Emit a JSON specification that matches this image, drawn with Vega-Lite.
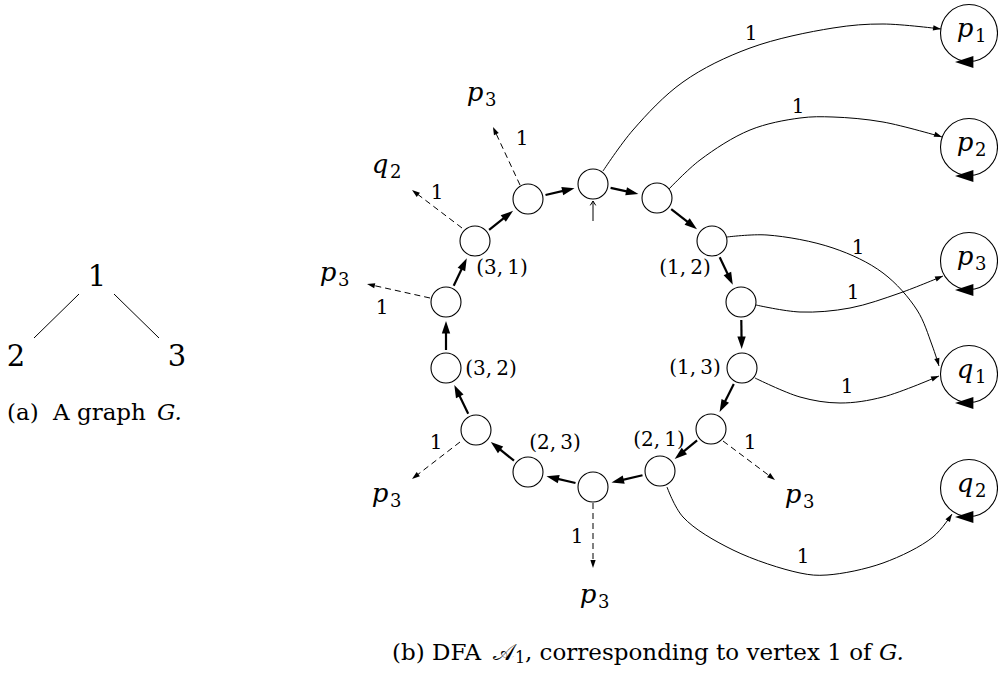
{
"$schema":"https://vega.github.io/schema/vega-lite/v6.json",
"width":998,"height":685,"padding":0,"autosize":{"type":"none"},
"background":"white",
"config":{"view":{"stroke":null},"text":{"font":"DejaVu Serif","color":"black"}},
"encoding":{
 "x":{"field":"x","type":"quantitative","scale":{"domain":[0,998],"nice":false,"zero":false},"axis":null},
 "y":{"field":"y","type":"quantitative","scale":{"domain":[0,685],"nice":false,"zero":false,"reverse":true},"axis":null}
},
"datasets":{
 "graphEdges":[{"x1":79,"y1":294,"x":34,"y":338},{"x1":114,"y1":294,"x":159,"y":338}],
 "graphVertices":[{"x":97,"y":277,"t":"1"},{"x":16,"y":357,"t":"2"},{"x":177,"y":357,"t":"3"}],
 "ringNodes":[{"x":593,"y":184},{"x":657,"y":198},{"x":712,"y":241},{"x":741,"y":302},{"x":742,"y":368},{"x":711,"y":429},{"x":660,"y":471},{"x":593,"y":487},{"x":528,"y":472},{"x":476,"y":430},{"x":446,"y":368},{"x":446,"y":302},{"x":475,"y":241},{"x":528,"y":199}],
 "bigNodes":[{"x":969,"y":33},{"x":969,"y":147},{"x":969,"y":261},{"x":969,"y":374},{"x":969,"y":488}],
 "loopHeads":[{"x":955,"y":62},{"x":955,"y":176},{"x":955,"y":290},{"x":955,"y":403},{"x":955,"y":517}],
 "ringArrows":[
  {"x1":610.6,"y1":187.9,"x":638.4,"y":193.9},
  {"x1":671.2,"y1":209.1,"x":697.0,"y":229.3},
  {"x1":719.7,"y1":257.3,"x":732.8,"y":284.8},
  {"x1":741.3,"y1":320,"x":741.7,"y":349},
  {"x1":733.8,"y1":384.1,"x":719.6,"y":412.1},
  {"x1":697.1,"y1":440.4,"x":674.7,"y":458.9},
  {"x1":642.5,"y1":475.2,"x":611.5,"y":482.6},
  {"x1":575.5,"y1":483,"x":546.5,"y":476.3},
  {"x1":514,"y1":460.7,"x":490.8,"y":442},
  {"x1":468.2,"y1":413.8,"x":454.3,"y":385.1},
  {"x1":446,"y1":350,"x":446,"y":321},
  {"x1":453.7,"y1":285.7,"x":466.8,"y":258.2},
  {"x1":489.1,"y1":229.8,"x":513.1,"y":210.8},
  {"x1":545.5,"y1":195,"x":574.5,"y":188.3}],
 "dashArrows":[
  {"x1":520,"y1":185,"x":493,"y":127},
  {"x1":462,"y1":228,"x":412,"y":190},
  {"x1":430,"y1":298,"x":367,"y":284},
  {"x1":460,"y1":442,"x":412,"y":479},
  {"x1":593,"y1":503,"x":593,"y":568},
  {"x1":723,"y1":441,"x":775,"y":480}],
 "startArrow":[{"x1":593,"y1":221,"x":593,"y":201}],
 "curves":[
  {"c":1,"i":0,"x":603,"y":171},{"c":1,"i":1,"x":633,"y":130},{"c":1,"i":2,"x":683,"y":82},{"c":1,"i":3,"x":750,"y":48},{"c":1,"i":4,"x":833,"y":28},{"c":1,"i":5,"x":883,"y":24},{"c":1,"i":6,"x":941,"y":29},
  {"c":2,"i":0,"x":669,"y":189},{"c":2,"i":1,"x":700,"y":160},{"c":2,"i":2,"x":750,"y":130},{"c":2,"i":3,"x":800,"y":118},{"c":2,"i":4,"x":833,"y":117},{"c":2,"i":5,"x":883,"y":122},{"c":2,"i":6,"x":942,"y":137},
  {"c":3,"i":0,"x":727,"y":237},{"c":3,"i":1,"x":767,"y":235},{"c":3,"i":2,"x":833,"y":248},{"c":3,"i":3,"x":883,"y":273},{"c":3,"i":4,"x":917,"y":310},{"c":3,"i":5,"x":932,"y":345},{"c":3,"i":6,"x":939,"y":366},
  {"c":4,"i":0,"x":756,"y":305},{"c":4,"i":1,"x":800,"y":312},{"c":4,"i":2,"x":850,"y":308},{"c":4,"i":3,"x":900,"y":293},{"c":4,"i":4,"x":943,"y":276},
  {"c":5,"i":0,"x":755,"y":378},{"c":5,"i":1,"x":800,"y":397},{"c":5,"i":2,"x":840,"y":403},{"c":5,"i":3,"x":883,"y":397},{"c":5,"i":4,"x":939,"y":376},
  {"c":6,"i":0,"x":667,"y":487},{"c":6,"i":1,"x":683,"y":517},{"c":6,"i":2,"x":733,"y":550},{"c":6,"i":3,"x":800,"y":573},{"c":6,"i":4,"x":827,"y":575},{"c":6,"i":5,"x":883,"y":563},{"c":6,"i":6,"x":933,"y":537},{"c":6,"i":7,"x":952,"y":514}],
 "curveHeads":[
  {"x1":921,"y1":26,"x":941,"y":29},
  {"x1":925,"y1":131,"x":942,"y":137},
  {"x1":935,"y1":352,"x":939,"y":366},
  {"x1":926,"y1":283,"x":943,"y":276},
  {"x1":924,"y1":382,"x":939,"y":376},
  {"x1":943,"y1":528,"x":952,"y":514}],
 "edgeLabels":[
  {"x":751,"y":34,"t":"1"},{"x":798,"y":107,"t":"1"},{"x":858,"y":248,"t":"1"},{"x":853,"y":293,"t":"1"},{"x":847,"y":387,"t":"1"},{"x":803,"y":557,"t":"1"},
  {"x":522,"y":139,"t":"1"},{"x":437,"y":193,"t":"1"},{"x":382,"y":308,"t":"1"},{"x":436,"y":443,"t":"1"},{"x":577,"y":537,"t":"1"},{"x":750,"y":443,"t":"1"}],
 "pairLabels":[
  {"x":502,"y":268,"t":"(3,\u20091)"},{"x":685,"y":268,"t":"(1,\u20092)"},{"x":491,"y":369,"t":"(3,\u20092)"},{"x":695,"y":368,"t":"(1,\u20093)"},{"x":555,"y":443,"t":"(2,\u20093)"},{"x":659,"y":440,"t":"(2,\u20091)"}],
 "mathLabels":[
  {"x":970,"y":33,"b":"p","s":"1"},{"x":970,"y":147,"b":"p","s":"2"},{"x":970,"y":261,"b":"p","s":"3"},{"x":970,"y":374,"b":"q","s":"1"},{"x":970,"y":488,"b":"q","s":"2"},
  {"x":480,"y":97,"b":"p","s":"3"},{"x":385,"y":169,"b":"q","s":"2"},{"x":333,"y":277,"b":"p","s":"3"},{"x":385,"y":498,"b":"p","s":"3"},{"x":593,"y":599,"b":"p","s":"3"},{"x":798,"y":499,"b":"p","s":"3"}],
 "capReg":[{"x":7,"y":413,"t":"(a)"},{"x":53,"y":413,"t":"A graph"},{"x":392,"y":653,"t":"(b) DFA"},{"x":525,"y":653,"t":", corresponding to vertex 1 of"}],
 "capIt":[{"x":157,"y":413,"t":"G."},{"x":879,"y":653,"t":"G."}],
 "capScript":[{"x":493,"y":653,"t":"𝒜"}],
 "capSub":[{"x":515,"y":653,"t":"1"}]
},
"layer":[
 {"data":{"name":"graphEdges"},"mark":{"type":"rule","strokeWidth":1,"color":"black"},
  "encoding":{"x":{"field":"x1","type":"quantitative","scale":{"domain":[0,998],"nice":false,"zero":false},"axis":null},
   "y":{"field":"y1","type":"quantitative","scale":{"domain":[0,685],"nice":false,"zero":false,"reverse":true},"axis":null},
   "x2":{"field":"x"},"y2":{"field":"y"}}},
 {"data":{"name":"graphVertices"},"mark":{"type":"text","fontSize":29,"align":"center","baseline":"middle"},"encoding":{"text":{"field":"t"}}},
 {"data":{"name":"ringArrows"},
  "transform":[{"calculate":"sqrt(pow(datum.x-datum.x1,2)+pow(datum.y-datum.y1,2))","as":"L"},{"calculate":"datum.x-(datum.x-datum.x1)/datum.L*5","as":"ex"},{"calculate":"datum.y-(datum.y-datum.y1)/datum.L*5","as":"ey"}],
  "mark":{"type":"rule","strokeWidth":2.2,"color":"black"},
  "encoding":{"x":{"field":"x1","type":"quantitative","scale":{"domain":[0,998],"nice":false,"zero":false},"axis":null},
   "y":{"field":"y1","type":"quantitative","scale":{"domain":[0,685],"nice":false,"zero":false,"reverse":true},"axis":null},
   "x2":{"field":"ex"},"y2":{"field":"ey"}}},
 {"data":{"name":"ringArrows"},
  "transform":[{"calculate":"atan2(datum.x-datum.x1, datum.y1-datum.y)*180/PI","as":"ang"}],
  "mark":{"type":"point","shape":"M0,0L-1,3L1,3Z","filled":true,"size":70,"color":"black","opacity":1,"strokeWidth":0},
  "encoding":{"angle":{"field":"ang","type":"quantitative","scale":null}}},
 {"data":{"name":"dashArrows"},
  "transform":[{"calculate":"sqrt(pow(datum.x-datum.x1,2)+pow(datum.y-datum.y1,2))","as":"L"},{"calculate":"datum.x-(datum.x-datum.x1)/datum.L*3","as":"ex"},{"calculate":"datum.y-(datum.y-datum.y1)/datum.L*3","as":"ey"}],
  "mark":{"type":"rule","strokeWidth":1,"strokeDash":[6,4],"color":"black"},
  "encoding":{"x":{"field":"x1","type":"quantitative","scale":{"domain":[0,998],"nice":false,"zero":false},"axis":null},
   "y":{"field":"y1","type":"quantitative","scale":{"domain":[0,685],"nice":false,"zero":false,"reverse":true},"axis":null},
   "x2":{"field":"ex"},"y2":{"field":"ey"}}},
 {"data":{"name":"dashArrows"},
  "transform":[{"calculate":"atan2(datum.x-datum.x1, datum.y1-datum.y)*180/PI","as":"ang"}],
  "mark":{"type":"point","shape":"M0,0L-1,3L1,3Z","filled":true,"size":28,"color":"black","opacity":1,"strokeWidth":0},
  "encoding":{"angle":{"field":"ang","type":"quantitative","scale":null}}},
 {"data":{"name":"startArrow"},
  "mark":{"type":"rule","strokeWidth":1,"color":"black"},
  "encoding":{"x":{"field":"x1","type":"quantitative","scale":{"domain":[0,998],"nice":false,"zero":false},"axis":null},
   "y":{"field":"y1","type":"quantitative","scale":{"domain":[0,685],"nice":false,"zero":false,"reverse":true},"axis":null},
   "x2":{"field":"x"},"y2":{"field":"y"}}},
 {"data":{"name":"startArrow"},
  "mark":{"type":"point","shape":"M-1,1.6L0,0L1,1.6","filled":false,"size":30,"stroke":"black","strokeWidth":1,"opacity":1}},
 {"data":{"name":"curves"},
  "mark":{"type":"line","interpolate":"catmull-rom","strokeWidth":1,"color":"black"},
  "encoding":{"detail":{"field":"c"},"order":{"field":"i","type":"quantitative"}}},
 {"data":{"name":"ringNodes"},
  "mark":{"type":"point","shape":"circle","size":900,"filled":true,"fill":"white","stroke":"black","strokeWidth":1.1,"opacity":1}},
 {"data":{"name":"bigNodes"},
  "mark":{"type":"point","shape":"circle","size":3249,"filled":true,"fill":"white","stroke":"black","strokeWidth":1.1,"opacity":1}},
 {"data":{"name":"curveHeads"},
  "transform":[{"calculate":"atan2(datum.x-datum.x1, datum.y1-datum.y)*180/PI","as":"ang"}],
  "mark":{"type":"point","shape":"M0,0L-1,3L1,3Z","filled":true,"size":28,"color":"black","opacity":1,"strokeWidth":0},
  "encoding":{"angle":{"field":"ang","type":"quantitative","scale":null}}},
 {"data":{"name":"loopHeads"},
  "mark":{"type":"point","shape":"M0,0L-1,3L1,3Z","filled":true,"size":150,"angle":270,"color":"black","opacity":1,"strokeWidth":0}},
 {"data":{"name":"edgeLabels"},"mark":{"type":"text","fontSize":20,"align":"center","baseline":"middle"},"encoding":{"text":{"field":"t"}}},
 {"data":{"name":"pairLabels"},"mark":{"type":"text","fontSize":20,"align":"center","baseline":"middle"},"encoding":{"text":{"field":"t"}}},
 {"data":{"name":"mathLabels"},"mark":{"type":"text","fontSize":26,"fontStyle":"italic","align":"center","baseline":"middle","dx":-5,"dy":-4},"encoding":{"text":{"field":"b"}}},
 {"data":{"name":"mathLabels"},"mark":{"type":"text","fontSize":18,"align":"left","baseline":"middle","dx":5,"dy":4},"encoding":{"text":{"field":"s"}}},
 {"data":{"name":"capReg"},"mark":{"type":"text","fontSize":23,"align":"left","baseline":"middle"},"encoding":{"text":{"field":"t"}}},
 {"data":{"name":"capIt"},"mark":{"type":"text","fontSize":23,"fontStyle":"italic","align":"left","baseline":"middle"},"encoding":{"text":{"field":"t"}}},
 {"data":{"name":"capScript"},"mark":{"type":"text","fontSize":23,"font":"DejaVu Serif, DejaVu Sans, Noto Sans, serif","align":"left","baseline":"middle"},"encoding":{"text":{"field":"t"}}},
 {"data":{"name":"capSub"},"mark":{"type":"text","fontSize":16,"align":"left","baseline":"middle","dy":5},"encoding":{"text":{"field":"t"}}}
]
}
